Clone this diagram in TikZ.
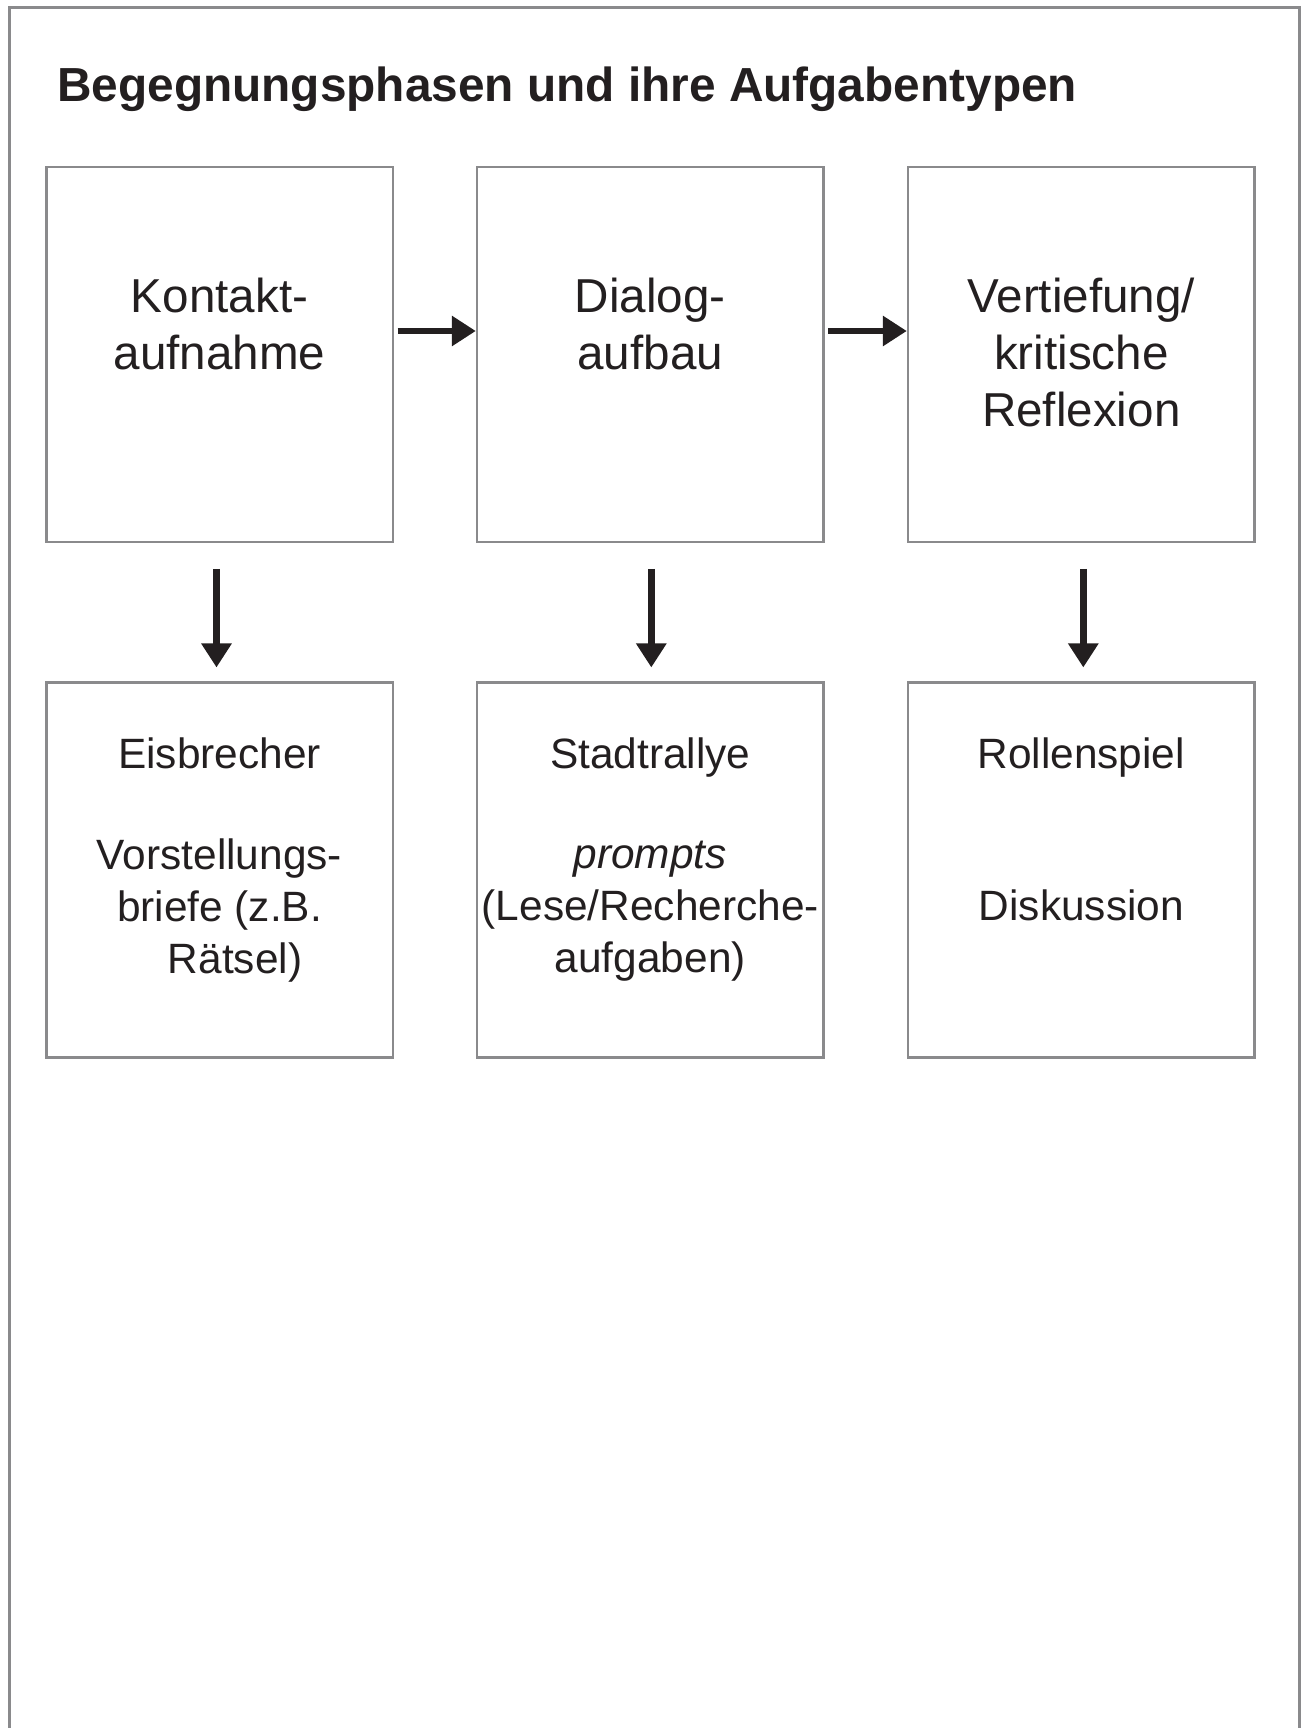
\documentclass[tikz,border=0pt]{standalone}
\usepackage{fontspec}
\setmainfont{Liberation Sans}
\usetikzlibrary{arrows.meta}
\definecolor{framegray}{HTML}{8A8A8C}
\definecolor{inkblack}{HTML}{231F20}
\tikzset{
  x=1pt, y=-1pt,
  frameline/.style={draw=framegray, line width=2.5pt},
  phasebox/.style={draw=framegray, line width=2.5pt, minimum width=346.5pt, minimum height=375pt, inner sep=0pt},
  bigtext/.style={text=inkblack, align=center, anchor=base, inner sep=0pt, font=\fontsize{47.6}{57}\selectfont},
  smalltext/.style={text=inkblack, align=center, anchor=base, inner sep=0pt, font=\fontsize{42.4}{52}\selectfont},
  arr/.style={draw=inkblack, line width=6.5pt, -{Triangle[length=24pt,width=29pt]}},
}
\begin{document}
\begin{tikzpicture}
\useasboundingbox (0,0) rectangle (1305,1728);
\fill[white] (0,0) rectangle (1305,1728);
% outer frame (open at bottom)
\draw[frameline] (9.3,1730) -- (9.3,7.3) -- (1299.3,7.3) -- (1299.3,1730);
% title
\node[text=inkblack, anchor=base west, inner sep=0pt, font=\fontsize{47.8}{57}\selectfont\bfseries] (title) at (57,102) {Begegnungsphasen und ihre Aufgabentypen};
% upper boxes
\node[phasebox] (k) at (219.5,354.5) {};
\node[phasebox] (d) at (650.3,354.5) {};
\node[phasebox] (v) at (1081.3,354.5) {};
% lower boxes
\node[phasebox] (e) at (219.5,870.2) {};
\node[phasebox] (s) at (650.3,870.2) {};
\node[phasebox] (r) at (1081.3,870.2) {};
% upper texts (anchor base = baseline of last line)
\node[bigtext] (kt) at (219.5,369) {Kontakt-\\aufnahme};
\node[bigtext] (dt) at (650.3,369) {Dialog-\\aufbau};
\node[bigtext] (vt) at (1081.3,426.5) {Vertiefung/\\kritische\\Reflexion};
% lower texts
\node[smalltext] (et1) at (219.5,768) {Eisbrecher};
\node[smalltext] (et2) at (219.5,973) {Vorstellungs-\\briefe (z.B.\\\hspace*{31pt}Rätsel)};
\node[smalltext] (st1) at (650.3,768) {Stadtrallye};
\node[smalltext] (st2) at (650.3,972) {\itshape prompts\\(Lese/Recherche-\\aufgaben)};
\node[smalltext] (rt1) at (1081.3,768) {Rollenspiel};
\node[smalltext] (rt2) at (1081.3,920) {Diskussion};
% arrows
\draw[arr] ([xshift=3.5pt,yshift=23.5pt]k.east) -- ([yshift=23.5pt]d.west);
\draw[arr] ([xshift=3.5pt,yshift=23.5pt]d.east) -- ([yshift=23.5pt]v.west);
\draw[arr] ([xshift=-3pt,yshift=-25.5pt]k.south) -- ([xshift=-3pt,yshift=14pt]e.north);
\draw[arr] ([xshift=1pt,yshift=-25.5pt]d.south) -- ([xshift=1pt,yshift=14pt]s.north);
\draw[arr] ([xshift=2pt,yshift=-25.5pt]v.south) -- ([xshift=2pt,yshift=14pt]r.north);
\end{tikzpicture}
\end{document}
